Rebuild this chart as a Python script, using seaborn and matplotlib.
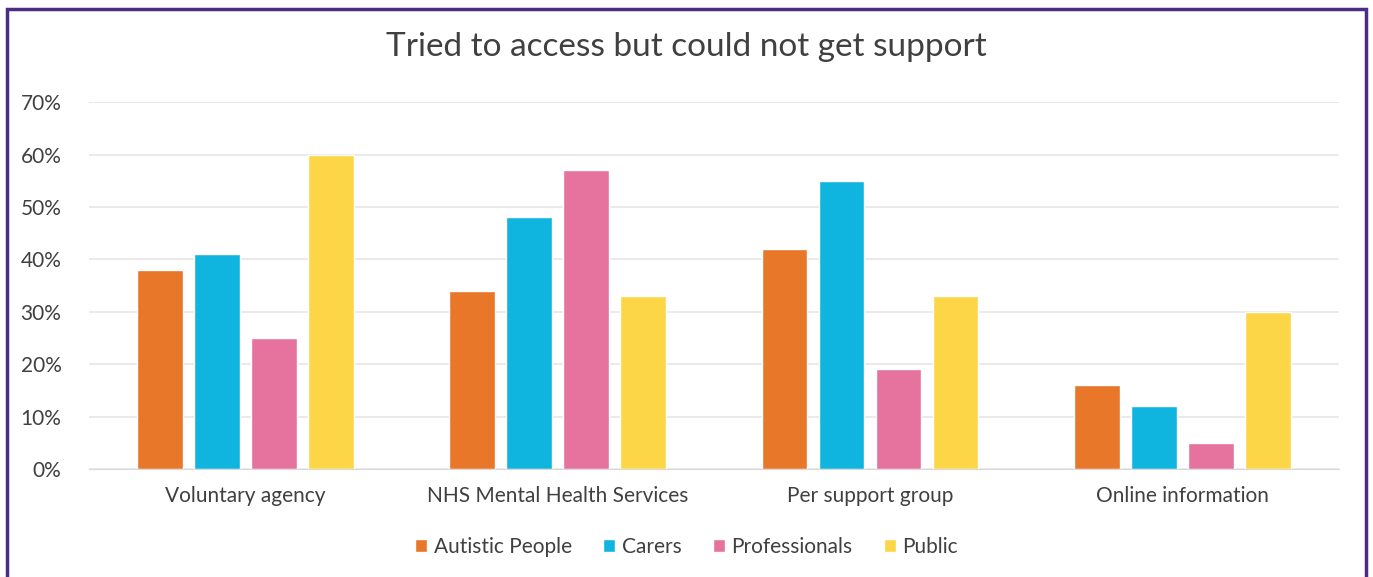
import matplotlib
matplotlib.use("Agg")
import matplotlib.pyplot as plt
import matplotlib.patches as mpatches
import seaborn as sns
import pandas as pd

categories = ["Voluntary agency", "NHS Mental Health Services", "Per support group", "Online information"]
groups = ["Autistic People", "Carers", "Professionals", "Public"]
autistic = [38, 34, 42, 16]
carers = [41, 48, 55, 12]
professionals = [25, 57, 19, 5]
public = [60, 33, 33, 30]
colors = ["#E8772A", "#10B5DF", "#E5739E", "#FDD647"]

rows = []
for g, vals in zip(groups, [autistic, carers, professionals, public]):
    for c, v in zip(categories, vals):
        rows.append({"category": c, "group": g, "value": v})
df = pd.DataFrame(rows)

sns.set_style("white")
plt.rcParams["font.family"] = ["Lato", "DejaVu Sans"]

fig = plt.figure(figsize=(13.73, 5.77), dpi=100)
ax = fig.add_axes([0.065, 0.187, 0.91, 0.636])

sns.barplot(data=df, x="category", y="value", hue="group", palette=colors,
            width=0.73, gap=0.2, ax=ax, legend=True, saturation=1)

ax.set_ylim(0, 70)
ax.set_xlim(-0.5, 3.5)
ax.set_yticks(range(0, 71, 10))
ax.set_yticklabels([f"{t}%" for t in range(0, 71, 10)], fontsize=15, color="#404040")
ax.tick_params(axis="x", labelsize=15, labelcolor="#404040", pad=9)
ax.tick_params(axis="y", pad=20, length=0)
ax.grid(axis="y", color="#e6e6e6", linewidth=1.2)
ax.set_axisbelow(True)
ax.set_xlabel("")
ax.set_ylabel("")
for s in ["top", "right", "left"]:
    ax.spines[s].set_visible(False)
ax.spines["bottom"].set_color("#d9d9d9")

handles, labels = ax.get_legend_handles_labels()
ax.get_legend().remove()
fig.legend(handles, labels, loc="center", bbox_to_anchor=(0.5, 0.052), ncol=4,
           frameon=False, fontsize=15, handlelength=0.6, handleheight=0.6,
           handletextpad=0.3, columnspacing=1.5, labelcolor="#404040")

fig.suptitle("Tried to access but could not get support", y=0.945, fontsize=24, color="#404040")

# purple frame round the chart (bottom edge is cut off in the source)
frame = mpatches.Rectangle((7 / 1373, -0.05), 1359 / 1373, 1 - 9 / 577 + 0.05,
                           transform=fig.transFigure, fill=False,
                           edgecolor="#4B2E83", linewidth=2.5)
fig.patches.append(frame)

plt.savefig("out.png", dpi=100)
